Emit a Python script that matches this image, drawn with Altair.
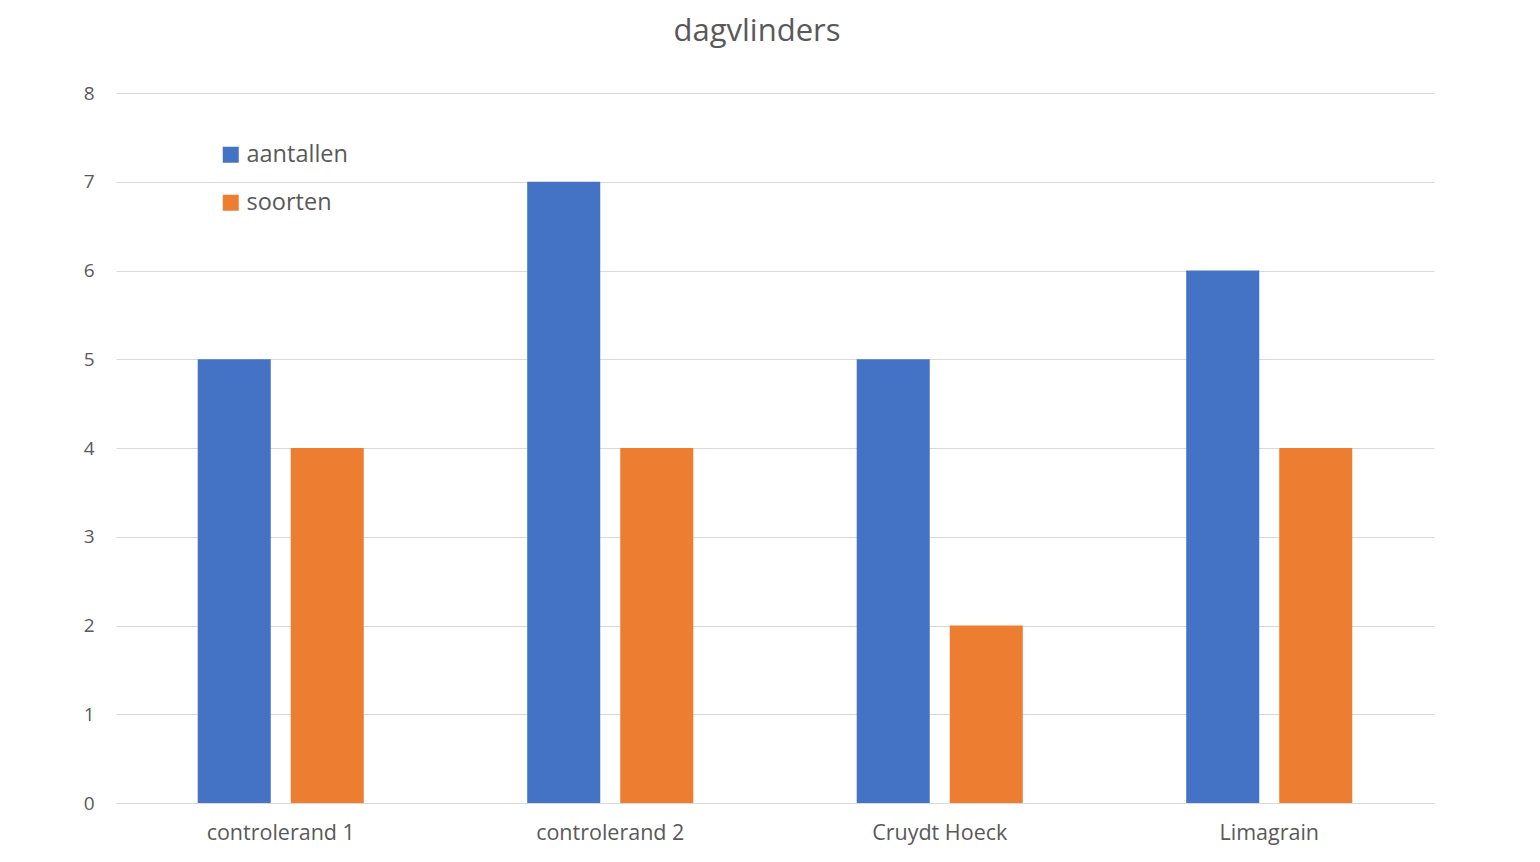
import altair as alt
import pandas as pd

categories = ["controlerand 1", "controlerand 2", "Cruydt Hoeck", "Limagrain"]
aantallen = [5, 7, 5, 6]
soorten = [4, 4, 2, 4]
series = ["aantallen", "soorten"]
colors = ["#4472C4", "#ED7D31"]
y_ticks = [0, 1, 2, 3, 4, 5, 6, 7, 8]

rows = []
for c, a, s in zip(categories, aantallen, soorten):
    rows.append({"locatie": c, "reeks": "aantallen", "waarde": a})
    rows.append({"locatie": c, "reeks": "soorten", "waarde": s})
df = pd.DataFrame(rows)

font = "Open Sans"
grey = "#595959"

chart = alt.Chart(df).mark_bar().encode(
    x=alt.X("locatie:N", sort=categories, title=None,
            scale=alt.Scale(paddingInner=0.496, paddingOuter=0.248),
            axis=alt.Axis(labelAngle=0, ticks=False, domainColor="#d9d9d9",
                          labelFontSize=21.5, labelColor=grey, labelFont=font,
                          labelPadding=19, grid=False)),
    xOffset=alt.XOffset("reeks:N", sort=series,
                        scale=alt.Scale(paddingInner=0.215, paddingOuter=0)),
    y=alt.Y("waarde:Q", title=None,
            scale=alt.Scale(domain=[0, 8], nice=False),
            axis=alt.Axis(values=y_ticks, ticks=False, domain=False,
                          labelOverlap=False,
                          gridColor="#d9d9d9", labelFontSize=19, labelColor=grey,
                          labelFont=font, labelPadding=22)),
    color=alt.Color("reeks:N", sort=series,
                    scale=alt.Scale(domain=series, range=colors),
                    legend=alt.Legend(title=None, orient="none", legendX=103, legendY=50,
                                      symbolType="square", symbolSize=256,
                                      symbolStrokeWidth=0, labelFontSize=23.5,
                                      labelColor=grey, labelFont=font,
                                      rowPadding=23, labelOffset=4)),
).properties(
    width=1318, height=710,
    title=alt.TitleParams("dagvlinders", fontSize=31, color=grey, font=font,
                          fontWeight="normal", offset=36, dx=-18),
    autosize=alt.AutoSizeParams(type="none"),
    padding={"left": 108, "top": 85, "right": 90, "bottom": 50},
).configure_view(stroke=None)

chart.save("out.html", embed_options={"renderer": "svg", "actions": False})
